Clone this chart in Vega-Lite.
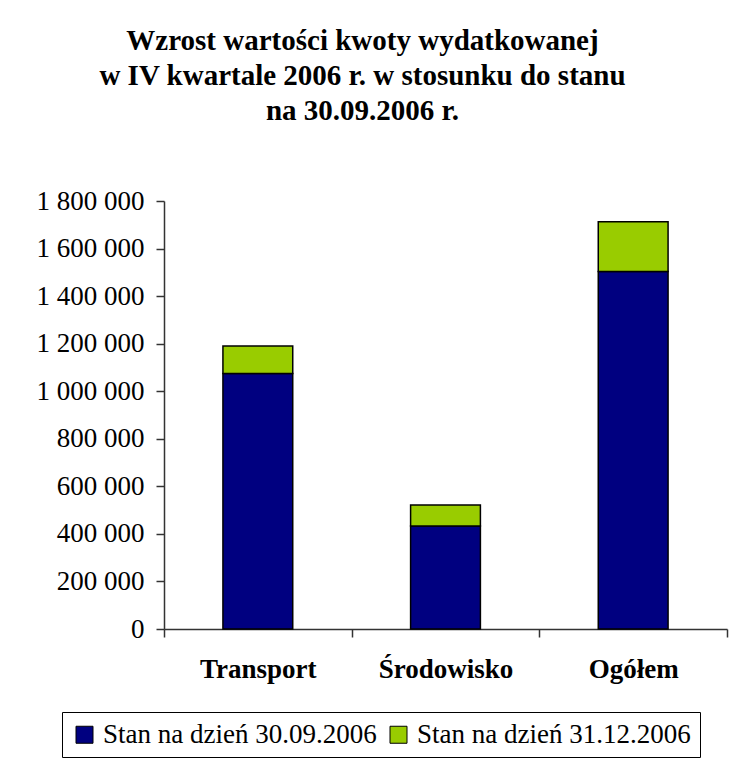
{
  "$schema": "https://vega.github.io/schema/vega-lite/v6.json",
  "autosize": {"type": "none"},
  "padding": {"left": 164, "top": 201, "right": 6, "bottom": 129},
  "width": 563,
  "height": 428,
  "background": "white",
  "title": {
    "text": ["Wzrost wartości kwoty wydatkowanej", "w IV kwartale 2006 r. w stosunku do stanu", "na 30.09.2006 r."],
    "font": "Liberation Serif, serif",
    "fontSize": 29,
    "fontWeight": "bold",
    "color": "black",
    "lineHeight": 35,
    "anchor": "middle",
    "dx": -83,
    "offset": 61
  },
  "data": {
    "values": [
      {"kategoria": "Transport", "seria": "Stan na dzień 30.09.2006", "wartosc": 1075000},
      {"kategoria": "Transport", "seria": "Stan na dzień 31.12.2006", "wartosc": 115000},
      {"kategoria": "Środowisko", "seria": "Stan na dzień 30.09.2006", "wartosc": 433000},
      {"kategoria": "Środowisko", "seria": "Stan na dzień 31.12.2006", "wartosc": 88000},
      {"kategoria": "Ogółem", "seria": "Stan na dzień 30.09.2006", "wartosc": 1504000},
      {"kategoria": "Ogółem", "seria": "Stan na dzień 31.12.2006", "wartosc": 209000}
    ]
  },
  "mark": {"type": "bar", "width": {"band": 0.372}, "stroke": "black", "strokeWidth": 1.5},
  "encoding": {
    "x": {
      "field": "kategoria",
      "type": "nominal",
      "sort": ["Transport", "Środowisko", "Ogółem"],
      "scale": {"paddingInner": 0, "paddingOuter": 0},
      "axis": {
        "title": null,
        "labelAngle": 0,
        "labelFont": "Liberation Serif, serif",
        "labelFontSize": 27,
        "labelFontWeight": "bold",
        "labelColor": "black",
        "labelPadding": 19,
        "tickBand": "extent",
        "tickSize": 8,
        "tickColor": "#333333",
        "domainColor": "#333333",
        "domainWidth": 1.5,
        "tickWidth": 1.5
      }
    },
    "y": {
      "field": "wartosc",
      "type": "quantitative",
      "stack": "zero",
      "scale": {"domain": [0, 1800000], "nice": false},
      "axis": {
        "title": null,
        "values": [0, 200000, 400000, 600000, 800000, 1000000, 1200000, 1400000, 1600000, 1800000],
        "labelExpr": "replace(replace(format(datum.value, ','), ',', ' '), ',', ' ')",
        "labelFont": "Liberation Serif, serif",
        "labelFontSize": 27,
        "labelColor": "black",
        "labelPadding": 12,
        "tickSize": 8,
        "tickColor": "#333333",
        "domainColor": "#333333",
        "domainWidth": 1.5,
        "tickWidth": 1.5,
        "grid": false
      }
    },
    "color": {
      "field": "seria",
      "type": "nominal",
      "scale": {"domain": ["Stan na dzień 30.09.2006", "Stan na dzień 31.12.2006"], "range": ["#000080", "#99CC00"]},
      "legend": {
        "title": null,
        "orient": "none",
        "direction": "horizontal",
        "legendX": -102,
        "legendY": 511,
        "strokeColor": "black",
        "padding": 9,
        "labelFont": "Liberation Serif, serif",
        "labelFontSize": 27,
        "labelColor": "black",
        "labelLimit": 400,
        "symbolType": "square",
        "symbolSize": 289,
        "symbolStrokeColor": "black",
        "symbolStrokeWidth": 1,
        "symbolOpacity": 1,
        "columnPadding": 8,
        "labelOffset": 5
      }
    },
    "order": {"field": "seria", "sort": "ascending"}
  },
  "config": {"font": "Liberation Serif, serif", "view": {"stroke": null}}
}
